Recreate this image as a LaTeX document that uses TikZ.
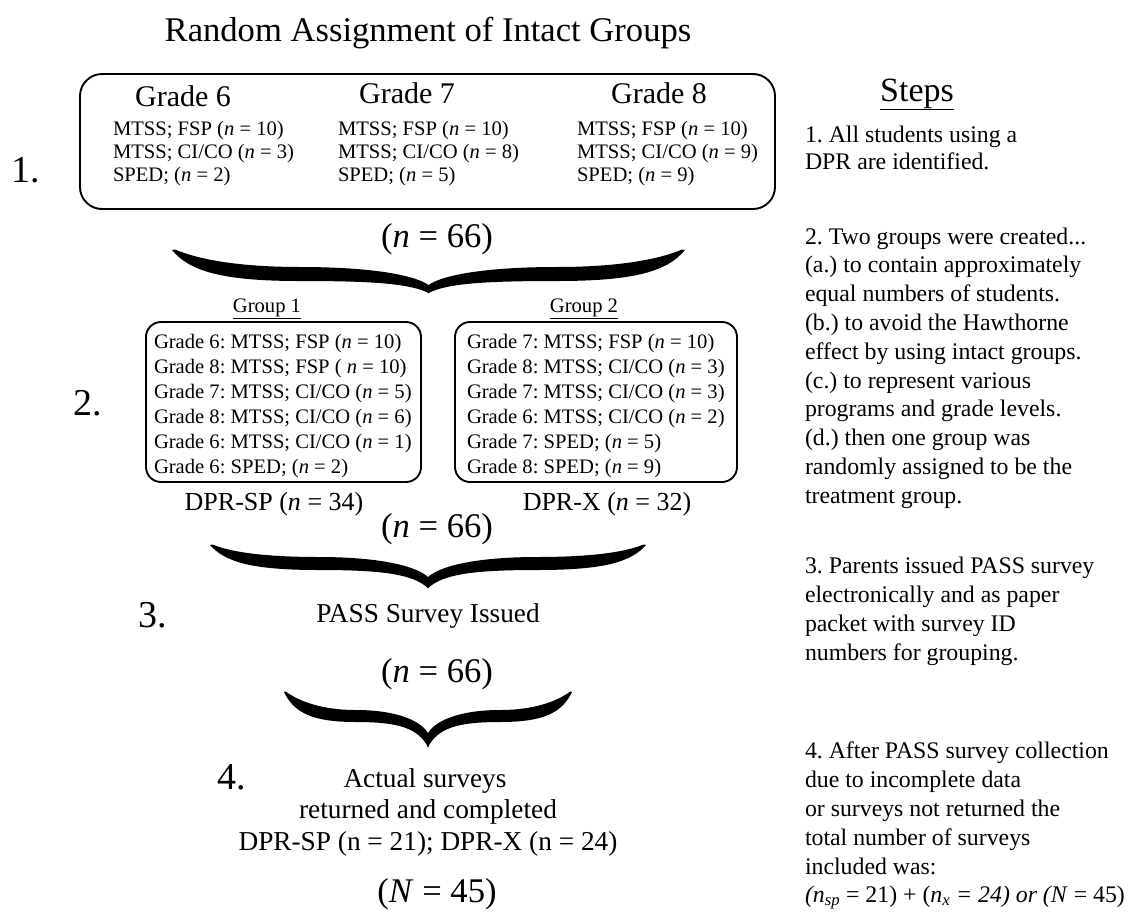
\documentclass[tikz,border=0pt]{standalone}
\usepackage{fontspec}
\setmainfont{Liberation Serif}
\frenchspacing

% curly brace drawn as a filled shape: #1 left x, #2 right x, #3 top y,
% #4 lower edge of the arm, #5 tip y, #6 arm thickness, #7 notch y
\newcommand\filledbrace[7]{%
  \pgfmathsetmacro\bW{#2-#1}%
  \pgfmathsetmacro\bC{(#1+#2)/2}%
  \foreach \mir in {1,-1}{%
    \begin{scope}[shift={({\bC},0)}, xscale=\mir, shift={({-\bC},0)}]
      \fill (#1,#3)
        .. controls ({#1+0.035*\bW},{#3+0.7*(#4-#3)}) and ({#1+0.1*\bW},{#4}) .. ({#1+0.25*\bW},{#4})
        .. controls ({#1+0.40*\bW},{#4}) and ({\bC-0.035*\bW},{#4+0.25*(#5-#4)}) .. ({\bC},{#5})
        -- ({\bC+0.5},{#5}) -- ({\bC+0.5},{#7}) -- ({\bC},{#7})
        .. controls ({\bC-0.03*\bW},{#7-0.6*(#7-#4+#6)}) and ({#1+0.38*\bW},{#4-#6}) .. ({#1+0.25*\bW},{#4-#6})
        .. controls ({#1+0.13*\bW},{#4-#6}) and ({#1+0.05*\bW},{#3+0.3*(#4-#3)}) .. ({#1+0.006*\bW},{#3-0.5})
        -- cycle;
    \end{scope}}%
}

\tikzset{
  every node/.style={inner sep=0pt, outer sep=0pt},
  ttl/.style={font=\fontsize{34.6}{40}\selectfont, anchor=base},
  grade/.style={font=\fontsize{30}{36}\selectfont, anchor=base},
  cell/.style={font=\fontsize{20.6}{25}\selectfont, anchor=base west},
  grouphead/.style={font=\fontsize{20.6}{25}\selectfont, anchor=base},
  stepnum/.style={font=\fontsize{38}{44}\selectfont, anchor=base west},
  tally/.style={font=\fontsize{34.6}{40}\selectfont, anchor=base},
  dpr/.style={font=\fontsize{26}{30}\selectfont, anchor=base},
  midtext/.style={font=\fontsize{27.3}{32}\selectfont, anchor=base},
  note/.style={font=\fontsize{23.8}{28}\selectfont, anchor=base west},
  notehead/.style={font=\fontsize{34}{40}\selectfont, anchor=base},
  panel/.style={draw, line width=1.9pt, rounded corners=22pt},
  grouppanel/.style={draw, line width=1.9pt, rounded corners=15pt},
}

\begin{document}
\begin{tikzpicture}[x=1pt, y=-1pt]
\useasboundingbox (0,0) rectangle (1132,911);

% title
\node[ttl] (title) at (428,41) {Random Assignment of Intact Groups};

% step 1: all students by grade
\draw[panel] (80,74) rectangle (775,209);
\node[stepnum] (n1) at (12,182) {1.};
\node[grade] (g6) at (183,106) {Grade 6};
\node[grade] (g7) at (407,103) {Grade 7};
\node[grade] (g8) at (659,103) {Grade 8};
\node[cell] (g6a) at (113,135) {MTSS; FSP (\textit{n} = 10)};
\node[cell] (g6b) at (113,158) {MTSS; CI/CO (\textit{n} = 3)};
\node[cell] (g6c) at (113,181) {SPED; (\textit{n} = 2)};
\node[cell] (g7a) at (338,135) {MTSS; FSP (\textit{n} = 10)};
\node[cell] (g7b) at (338,158) {MTSS; CI/CO (\textit{n} = 8)};
\node[cell] (g7c) at (338,181) {SPED; (\textit{n} = 5)};
\node[cell] (g8a) at (577,135) {MTSS; FSP (\textit{n} = 10)};
\node[cell] (g8b) at (577,158) {MTSS; CI/CO (\textit{n} = 9)};
\node[cell] (g8c) at (577,181) {SPED; (\textit{n} = 9)};
\node[tally] (t1) at (437,247) {(\textit{n} = 66)};
\filledbrace{172}{685}{250}{281}{293}{14}{285}

% step 2: two intact groups
\node[stepnum] (n2) at (73,415) {2.};
\node[grouphead] (h1) at (267,312) {\underline{Group 1}};
\node[grouphead] (h2) at (584,312) {\underline{Group 2}};
\draw[grouppanel] (146,322) rectangle (421,482);
\draw[grouppanel] (455,322) rectangle (737,482);
\node[cell] (a1) at (154,348) {Grade 6: MTSS; FSP (\textit{n} = 10)};
\node[cell] (a2) at (154,373) {Grade 8: MTSS; FSP ( \textit{n} = 10)};
\node[cell] (a3) at (154,398) {Grade 7: MTSS; CI/CO (\textit{n} = 5)};
\node[cell] (a4) at (154,423) {Grade 8: MTSS; CI/CO (\textit{n} = 6)};
\node[cell] (a5) at (154,448) {Grade 6: MTSS; CI/CO (\textit{n} = 1)};
\node[cell] (a6) at (154,473) {Grade 6: SPED; (\textit{n} = 2)};
\node[cell] (b1) at (467,348) {Grade 7: MTSS; FSP (\textit{n} = 10)};
\node[cell] (b2) at (467,373) {Grade 8: MTSS; CI/CO (\textit{n} = 3)};
\node[cell] (b3) at (467,398) {Grade 7: MTSS; CI/CO (\textit{n} = 3)};
\node[cell] (b4) at (467,423) {Grade 6: MTSS; CI/CO (\textit{n} = 2)};
\node[cell] (b5) at (467,448) {Grade 7: SPED; (\textit{n} = 5)};
\node[cell] (b6) at (467,473) {Grade 8: SPED; (\textit{n} = 9)};
\node[dpr] (sp) at (274,510) {DPR-SP (\textit{n} = 34)};
\node[dpr] (xx) at (607,510) {DPR-X (\textit{n} = 32)};
\node[tally] (t2) at (437,537) {(\textit{n} = 66)};
\filledbrace{210}{646}{545}{570}{588}{13}{577}

% step 3: survey issued
\node[stepnum] (n3) at (138,627) {3.};
\node[midtext] (pass) at (428,622) {PASS Survey Issued};
\node[tally] (t3) at (437,682) {(\textit{n} = 66)};
\filledbrace{284}{572}{692}{722}{747}{12}{733}

% step 4: returned surveys
\node[stepnum] (n4) at (217,789) {4.};
\node[midtext] (ret1) at (425,787) {Actual surveys};
\node[midtext] (ret2) at (428,818) {returned and completed};
\node[midtext] (ret3) at (428,850) {DPR-SP (n = 21); DPR-X (n = 24)};
\node[tally] (tot) at (437,902) {(\textit{N} = 45)};

% explanation column
\node[notehead] (steps) at (917,101) {\underline{Steps}};
\node[note] (s1a) at (805,142) {1. All students using a};
\node[note] (s1b) at (805,169) {DPR are identified.};

\node[note] (s2a) at (805,244.0) {2. Two groups were created...};
\node[note] (s2b) at (805,272.8) {(a.) to contain approximately};
\node[note] (s2c) at (805,301.6) {equal numbers of students.};
\node[note] (s2d) at (805,330.4) {(b.) to avoid the Hawthorne};
\node[note] (s2e) at (805,359.2) {effect by using intact groups.};
\node[note] (s2f) at (805,388.0) {(c.) to represent various};
\node[note] (s2g) at (805,416.8) {programs and grade levels.};
\node[note] (s2h) at (805,445.6) {(d.) then one group was};
\node[note] (s2i) at (805,474.4) {randomly assigned to be the};
\node[note] (s2j) at (805,503.2) {treatment group.};

\node[note] (s3a) at (805,573) {3. Parents issued PASS survey};
\node[note] (s3b) at (805,602) {electronically and as paper};
\node[note] (s3c) at (805,631) {packet with survey ID};
\node[note] (s3d) at (805,660) {numbers for grouping.};

\node[note] (s4a) at (805,758) {4. After PASS survey collection};
\node[note] (s4b) at (805,787) {due to incomplete data};
\node[note] (s4c) at (805,816) {or surveys not returned the};
\node[note] (s4d) at (805,845) {total number of surveys};
\node[note] (s4e) at (805,874) {included was:};
\node[note] (s4f) at (805,902)
  {\textit{(n}\textsubscript{\textit{sp}} = 21) + (\textit{n}\textsubscript{\textit{x}} \textit{= 24) or (N} = 45)};
\end{tikzpicture}
\end{document}
